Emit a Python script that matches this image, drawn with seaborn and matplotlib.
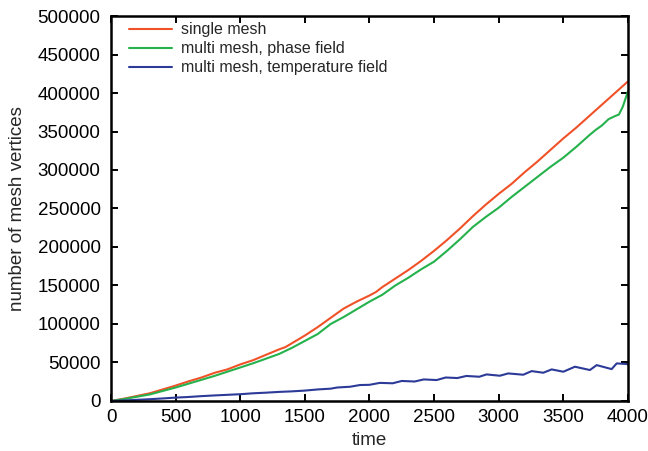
import matplotlib
matplotlib.use('Agg')
import matplotlib.pyplot as plt
import pandas as pd
import seaborn as sns

# single mesh
t_single = [0, 100, 200, 300, 400, 500, 600, 700, 800, 900, 1000, 1100, 1200, 1300, 1350,
            1400, 1500, 1600, 1700, 1800, 1900, 2000, 2050, 2100, 2200, 2300, 2400, 2500,
            2600, 2700, 2800, 2900, 3000, 3100, 3200, 3300, 3400, 3500, 3600, 3700, 3800,
            3900, 4000]
v_single = [0, 3000, 6500, 10000, 15000, 20000, 25500, 30500, 36500, 41000, 47500, 53000,
            60000, 67000, 70000, 75000, 85000, 96000, 108000, 120000, 129000, 137000, 141500,
            148000, 159000, 170000, 182000, 195000, 209000, 224000, 240000, 255000, 269000,
            282000, 297000, 311000, 326000, 341000, 355000, 370000, 385000, 400000, 415000]

# multi mesh, phase field
t_phase = [0, 100, 200, 300, 400, 500, 600, 700, 800, 900, 1000, 1100, 1200, 1300, 1400,
           1500, 1600, 1700, 1800, 1900, 2000, 2100, 2200, 2300, 2400, 2500, 2600, 2700,
           2800, 2900, 3000, 3100, 3200, 3300, 3400, 3500, 3600, 3700, 3750, 3800, 3850,
           3900, 3930, 3960, 4000]
v_phase = [0, 2500, 5500, 8500, 13000, 17500, 22500, 27500, 32500, 38000, 43500, 49000,
           55000, 61000, 69000, 78000, 87000, 100000, 109000, 119000, 129000, 138000, 150000,
           160000, 171000, 181000, 195000, 210000, 226000, 239000, 251000, 265000, 278000,
           291000, 304000, 316000, 330000, 345000, 352000, 358000, 366000, 370000, 372000,
           382000, 402000]

# multi mesh, temperature field
t_temp = [0, 100, 200, 300, 400, 500, 600, 700, 800, 900, 1000, 1100, 1200, 1300, 1400,
          1500, 1600, 1700, 1750, 1850, 1926, 2000, 2080, 2180, 2250, 2350, 2420, 2520,
          2590, 2680, 2750, 2850, 2906, 3009, 3074, 3190, 3255, 3345, 3410, 3500, 3590,
          3706, 3758, 3874, 3913, 3990, 4000]
v_temp = [0, 700, 1500, 2300, 3300, 4400, 5200, 6300, 7200, 8000, 8800, 10000, 10800,
          11800, 12500, 13500, 15000, 16000, 17500, 18500, 20700, 21000, 23500, 23000,
          26000, 25300, 28000, 27200, 30500, 29800, 32500, 31500, 34500, 32800, 35800,
          34100, 38800, 36700, 41000, 38000, 44500, 40200, 46600, 41400, 48800, 48000, 47500]

labels = ["single mesh", "multi mesh, phase field", "multi mesh, temperature field"]
colors = ["#f05228", "#25b14b", "#2c3a98"]

sns.set_style("ticks")
plt.rcParams['font.family'] = ['Liberation Sans', 'DejaVu Sans']

fig = plt.figure(figsize=(6.48, 4.51), dpi=100)
ax = fig.add_axes([0.1713, 0.1109, 0.7977, 0.8536])

series = [(t_single, v_single), (t_phase, v_phase), (t_temp, v_temp)]
for (t, v), lab, col in zip(series, labels, colors):
    df = pd.DataFrame({"time": t, "vertices": v})
    sns.lineplot(data=df, x="time", y="vertices", ax=ax, color=col, lw=1.5, label=lab)

ax.set_xlim(0, 4000)
ax.set_ylim(0, 500000)
ax.set_xticks(range(0, 4001, 500))
ax.set_yticks(range(0, 500001, 50000))
ax.set_xlabel("time", fontsize=13.5, labelpad=4)
ax.set_ylabel("number of mesh vertices", fontsize=13.5, labelpad=8)
ax.tick_params(direction='in', length=5, width=1.4, top=True, right=True,
               labelsize=13.5, colors='black')
ax.tick_params(axis='x', pad=6)
ax.tick_params(axis='y', pad=7.5)
for sp in ax.spines.values():
    sp.set_linewidth(1.8)
    sp.set_color('black')

leg = ax.legend(loc='upper left', frameon=False, fontsize=11.5, handlelength=2.7,
                labelspacing=0.25, handletextpad=0.6, borderaxespad=0.0,
                bbox_to_anchor=(0.022, 1.0))

plt.savefig("out.png", dpi=100)
